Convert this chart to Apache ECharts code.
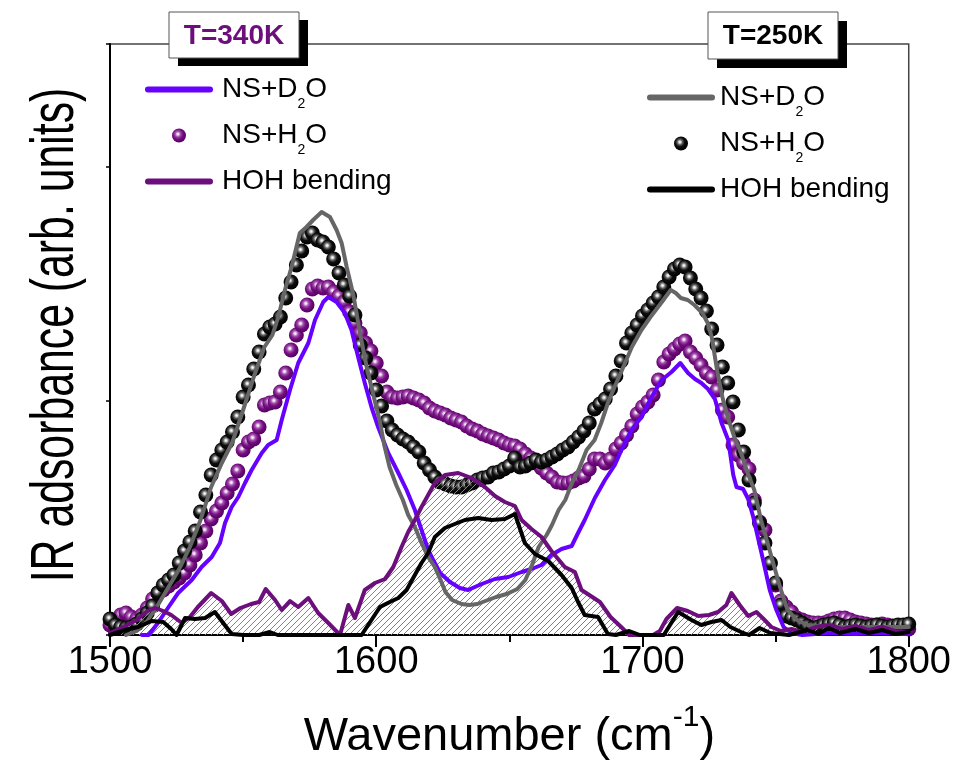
<!DOCTYPE html>
<html>
<head>
<meta charset="utf-8">
<script src="https://cdn.jsdelivr.net/npm/echarts@6/dist/echarts.min.js"></script>
<style>
html,body{margin:0;padding:0;background:#fff;}
#chart{width:954px;height:767px;}
</style>
</head>
<body>
<div id="chart"></div>
<script>
// ---------------- DATA (heights in arbitrary units, x in cm^-1) ----------------
const xTicks = [1500, 1600, 1700, 1800];

// sphere series sampled every 2 cm^-1 from 1500 to 1800
const sphereStart = 1500, sphereStep = 2;
const h2o250 = [
 16,10,8,7,8,11,16,22,29,42,
 50,55,60,72,84,93,104,123,140,160,
 175,185,193,203,218,238,250,266,283,301,
 308,311,318,337,353,370,384,398,402,395,
 393,388,376,362,350,339,320,290,277,262,
 245,229,214,205,200,196,193,188,183,172,
 165,158,153,151,149,148,148,150,152,155,
 157,158,162,163,166,169,177,168,169,172,
 175,173,175,178,181,185,188,193,198,204,
 212,226,231,236,246,259,274,292,302,310,
 319,325,332,338,348,358,366,370,368,357,
 346,337,324,306,290,268,252,233,205,183,
 155,132,112,92,72,52,30,19,17,15,
 12,9,7,8,10,11,12,10,8,9,
 10,9,8,9,10,9,8,9,10,10,
 11];
const h2o340 = [
 10,12,20,22,18,16,20,27,36,42,
 45,49,53,57,62,70,80,92,104,116,
 124,132,142,151,164,185,193,196,208,230,
 232,233,243,262,285,300,310,330,346,349,
 347,348,343,339,333,323,312,302,292,284,
 272,259,243,238,237,238,239,237,235,232,
 227,224,222,220,217,215,213,209,206,204,
 201,199,197,195,192,190,189,186,181,177,
 172,167,162,158,153,152,152,154,157,159,
 166,176,176,172,176,186,192,200,209,221,
 228,233,240,255,273,281,286,291,294,283,
 277,270,262,258,245,225,218,190,180,172,
 166,135,113,105,72,50,34,28,23,17,
 15,13,12,12,12,14,16,17,17,15,
 13,12,11,10,10,11,10,8,7,7,
 6];

// NS+D2O, 340 K (line)
const d2o340X = [1512,1514.5,1518,1522,1525.6,1530.7,1534.4,1538.2,1541.3,1543.2,1545.7,1548.2,1550.7,1553.2,1557,1559.4,1562.6,1564.5,1567.6,1570.7,1574.5,1577,1580.1,1582,1585.1,1588.2,1590.7,1593.2,1595.7,1598.2,1600.7,1604.5,1608.3,1611.4,1614.5,1617,1619.5,1621,1624,1627.7,1631.4,1634.5,1639.6,1644.6,1649.6,1654.6,1658.3,1662.1,1665.8,1669.6,1673.4,1675.8,1678.3,1682.1,1685.9,1689.6,1692.1,1695.9,1699.6,1703.4,1707.2,1710.9,1714.2,1717.1,1719.7,1722.1,1724.6,1727.2,1729.7,1732.2,1734.1,1735.3,1737.8,1739.7,1741.6,1745.3,1747.8,1750.3,1753,1756,1760,1770,1780,1790,1800];
const d2o340Y = [0,0,12,28,42,55,68,78,92,112,128,138,152,165,182,190,195,215,245,272,292,315,333,338,333,322,305,278,252,228,208,182,162,145,125,105,85,77,62,53,47,45,51,56,58,63,66,70,80,86,89,102,115,137,155,170,185,205,218,238,255,263,272,262,256,252,246,236,212,195,160,148,146,136,118,75,45,25,8,2,0,2,1,2,1];

// NS+D2O, 250 K (line)
const d2o250X = [1506,1510,1514,1518,1522,1526,1530,1534,1538,1542,1546,1550,1554,1558,1561,1563.2,1565.7,1568.2,1571.3,1573.8,1576.3,1579.5,1582.6,1585.1,1587,1588.9,1591.4,1593.9,1596.4,1598.9,1601.4,1603,1605,1607.5,1610,1612,1614.5,1617,1619.5,1622,1624,1626,1628.5,1632,1635,1638,1642,1645,1649,1653,1656,1658.5,1661,1664,1666,1668.5,1671,1673.5,1676,1679,1682,1684.5,1687,1689.5,1692,1696,1699.6,1703,1707,1710.6,1712.5,1714.4,1717,1719.5,1722.5,1724.5,1726,1728,1730,1732,1734.5,1737,1739.5,1742,1744.5,1747,1749.5,1752,1754.5,1758,1762,1770,1780,1790,1800];
const d2o250Y = [0,4,14,30,48,66,88,115,148,172,193,225,258,288,300,318,345,368,402,408,415,423,418,405,392,368,340,302,268,240,213,190,168,150,135,120,108,92,78,68,56,43,35,31,30,31,35,38,41,46,55,70,88,100,110,125,135,152,165,185,195,212,232,248,263,288,305,318,332,345,342,337,335,330,322,312,298,265,238,218,198,182,162,145,115,92,68,45,25,15,10,8,8,8,8];

// HOH bending, 340 K
const hoh340X = [1500,1505,1510,1514,1517,1520,1523,1527,1530,1533,1538,1542,1545.5,1549,1553,1556,1558.5,1562,1564.5,1567.6,1570.7,1574.5,1578.2,1582,1586.4,1589.5,1592,1595.7,1599.5,1603.3,1606.4,1609.5,1612,1614.5,1617,1619.5,1622,1625.8,1630.8,1635.8,1640.8,1644.6,1648.3,1652.1,1654.6,1658.3,1662.1,1665.8,1670.8,1674.6,1677.1,1680,1684,1688,1692,1695,1700,1704,1706.5,1709,1713,1717,1721,1725,1728.4,1731.5,1733.4,1736.5,1739.7,1742.8,1745.5,1748.4,1752,1756,1760,1765,1770,1775,1780,1785,1790,1795,1800];
const hoh340Y = [2,8,15,24,27,24,20,12,18,28,42,34,21,27,31,33,46,35,25,34,28,37,22,12,0,30,17,45,52,56,68,88,103,115,128,140,152,160,162,157,148,139,133,129,115,106,98,84,68,63,45,40,33,18,8,0,0,0,4,16,27,24,19,20,23,30,42,30,19,23,16,8,4,6,3,8,10,6,9,5,8,4,3];

// HOH bending, 250 K
const hoh250X = [1500,1505.6,1510.6,1515.6,1520,1523,1525,1528.2,1531.9,1535.7,1539.4,1542.5,1545.7,1550,1556,1560,1563,1594.5,1598.2,1601.4,1605.1,1608.3,1611.4,1614.5,1617,1619.5,1622,1625.8,1629.5,1633.3,1638.3,1643.3,1648.3,1652.1,1655.8,1659.6,1664.6,1669.6,1673.4,1675.8,1678.3,1683.3,1687,1690,1695,1699,1708,1713.4,1718.4,1722.1,1725.9,1729.7,1733,1737,1740,1744,1748,1755,1762,1766,1770,1774,1780,1785,1790,1795,1800];
const hoh250Y = [0,5,8,14,13,6,0,17,16,17,23,12,1,0,0,3,0,0,15,28,33,37,45,60,72,82,98,107,111,115,117,115,116,121,92,81,74,60,47,33,20,18,1,0,4,0,0,23,15,10,13,15,8,3,0,7,2,0,5,1,7,2,6,2,5,1,3];

const legendLabels = {
  d2o_340: 'NS+D{s|2}O', h2o_340: 'NS+H{s|2}O', hoh_340: 'HOH bending',
  d2o_250: 'NS+D{s|2}O', h2o_250: 'NS+H{s|2}O', hoh_250: 'HOH bending'
};
const yTitle = 'IR adsorbance (arb. units)';

// ---------------- CHART ----------------
const FONT = '"Liberation Sans", Arial, Helvetica, sans-serif';
const C_BLUE = '#6600FF', C_GRAY = '#666666', C_PURPLE = '#6C0F7C', C_BLACK = '#000000';

function pairs(xs, ys) { return xs.map((x, i) => [x, ys[i]]); }
function gridPairs(vals) { return vals.map((v, i) => [sphereStart + i * sphereStep, v]); }

function hatch(color, size, lw) {
  const c = document.createElement('canvas');
  c.width = size; c.height = size;
  const ctx = c.getContext('2d');
  ctx.strokeStyle = color; ctx.lineWidth = lw;
  ctx.beginPath();
  ctx.moveTo(-1, size + 1); ctx.lineTo(size + 1, -1);
  ctx.moveTo(-1, 1); ctx.lineTo(1, -1);
  ctx.moveTo(size - 1, size + 1); ctx.lineTo(size + 1, size - 1);
  ctx.stroke();
  return c;
}

function ball(stops) {
  return { type: 'radial', x: 0.42, y: 0.4, r: 0.6,
    colorStops: stops.map(s => ({ offset: s[0], color: s[1] })) };
}
const purpleBall = ball([[0, '#ffffff'], [0.12, '#ecd2ef'], [0.32, '#a150ad'], [0.6, '#730E7E'], [1, '#560062']]);
const blackBall = ball([[0, '#ffffff'], [0.12, '#dddddd'], [0.3, '#666666'], [0.55, '#0e0e0e'], [1, '#000000']]);

const lineIcon = 'path://M3,0L65,0A3,3,0,0,1,65,6L3,6A3,3,0,0,1,3,0Z';

function legendCfg(names, left, top, padLeft) {
  return {
    data: [
      { name: names[0], icon: lineIcon },
      { name: names[1], icon: 'circle' },
      { name: names[2], icon: lineIcon }
    ],
    orient: 'vertical', left: left, top: top, padding: 0,
    itemWidth: 68, itemHeight: 14, itemGap: 1,
    selectedMode: false,
    itemStyle: { borderWidth: 0 },
    formatter: n => legendLabels[n],
    textStyle: {
      fontFamily: FONT, fontSize: 28, color: '#000', lineHeight: 45,
      padding: [0, 0, 0, padLeft],
      rich: { s: { fontFamily: FONT, fontSize: 14, lineHeight: 14, color: '#000', padding: [30, 0, 0, 0] } }
    }
  };
}

const chart = echarts.init(document.getElementById('chart'), null, { renderer: 'canvas' });

const option = {
  animation: false,
  backgroundColor: '#ffffff',
  grid: { left: 110, right: 45, top: 44, bottom: 132, show: true, borderColor: '#444', borderWidth: 1.5, backgroundColor: 'transparent' },
  xAxis: {
    type: 'value', min: 1500, max: 1800, interval: 100,
    axisLine: { lineStyle: { color: '#000', width: 2 } },
    axisTick: { length: 12, lineStyle: { color: '#000', width: 2 } },
    minorTick: { show: true, splitNumber: 2, length: 7, lineStyle: { color: '#000', width: 2 } },
    splitLine: { show: false },
    axisLabel: { fontFamily: FONT, fontSize: 38, color: '#000', margin: 9,
      formatter: v => xTicks.includes(v) ? String(v) : '' },
    name: 'Wavenumber (cm{sup|-1})', nameLocation: 'middle', nameGap: 68,
    nameTextStyle: { fontFamily: FONT, fontSize: 47, color: '#000',
      rich: { sup: { fontFamily: FONT, fontSize: 30, color: '#000', padding: [0, 0, 38, 0] } } }
  },
  yAxis: {
    type: 'value', min: 0, max: 591, interval: 234,
    axisLine: { show: true, lineStyle: { color: '#000', width: 2 } },
    axisTick: { show: true, length: 4, lineStyle: { color: '#000', width: 1.5 } },
    axisLabel: { show: false },
    splitLine: { show: false }
  },
  legend: [
    legendCfg(['d2o_340', 'h2o_340', 'hoh_340'], 145, 67, 4),
    legendCfg(['d2o_250', 'h2o_250', 'hoh_250'], 647, 75, 0)
  ],
  series: [
    { name: 'hoh_340_fill', type: 'line', data: pairs(hoh340X, hoh340Y), symbol: 'none', silent: true,
      lineStyle: { width: 0, opacity: 0 }, areaStyle: { color: { image: hatch('#A070AA', 6, 1), repeat: 'repeat' }, opacity: 1 } },
    { name: 'hoh_250_fill', type: 'line', data: pairs(hoh250X, hoh250Y), symbol: 'none', silent: true,
      lineStyle: { width: 0, opacity: 0 }, areaStyle: { color: { image: hatch('#857888', 6, 0.9), repeat: 'repeat' }, opacity: 1 } },
    { name: 'd2o_340', type: 'line', data: pairs(d2o340X, d2o340Y), symbol: 'none',
      itemStyle: { color: C_BLUE }, lineStyle: { color: C_BLUE, width: 4, join: 'round', cap: 'round' } },
    { name: 'd2o_250', type: 'line', data: pairs(d2o250X, d2o250Y), symbol: 'none',
      itemStyle: { color: C_GRAY }, lineStyle: { color: C_GRAY, width: 4, join: 'round', cap: 'round' } },
    { name: 'hoh_340', type: 'line', data: pairs(hoh340X, hoh340Y), symbol: 'none',
      itemStyle: { color: C_PURPLE }, lineStyle: { color: C_PURPLE, width: 4, join: 'round', cap: 'round' } },
    { name: 'hoh_250', type: 'line', data: pairs(hoh250X, hoh250Y), symbol: 'none',
      itemStyle: { color: C_BLACK }, lineStyle: { color: C_BLACK, width: 4, join: 'round', cap: 'round' } },
    { name: 'h2o_340', type: 'scatter', data: gridPairs(h2o340), symbol: 'circle', symbolSize: 15,
      itemStyle: { color: purpleBall, opacity: 1 } },
    { name: 'h2o_250', type: 'scatter', data: gridPairs(h2o250), symbol: 'circle', symbolSize: 15,
      itemStyle: { color: blackBall, opacity: 1 } }
  ],
  graphic: [
    { type: 'text', z: 50, x: 56, y: 335, rotation: Math.PI / 2, scaleX: 0.69,
      style: { text: yTitle, fill: '#000', font: '62px ' + FONT, align: 'center', verticalAlign: 'middle' } },
    { type: 'rect', z: 100, shape: { x: 178, y: 20, width: 130, height: 46 }, style: { fill: '#000' } },
    { type: 'rect', z: 101, shape: { x: 169, y: 12, width: 130, height: 46 }, style: { fill: '#fff', stroke: '#555', lineWidth: 1 } },
    { type: 'text', z: 102, x: 234, y: 36, style: { text: 'T=340K', fill: C_PURPLE, font: 'bold 28px ' + FONT, align: 'center', verticalAlign: 'middle' } },
    { type: 'rect', z: 100, shape: { x: 717, y: 21, width: 130, height: 47 }, style: { fill: '#000' } },
    { type: 'rect', z: 101, shape: { x: 708, y: 12, width: 130, height: 47 }, style: { fill: '#fff', stroke: '#555', lineWidth: 1 } },
    { type: 'text', z: 102, x: 773, y: 36, style: { text: 'T=250K', fill: '#000', font: 'bold 28px ' + FONT, align: 'center', verticalAlign: 'middle' } }
  ]
};
chart.setOption(option);
</script>
</body>
</html>
